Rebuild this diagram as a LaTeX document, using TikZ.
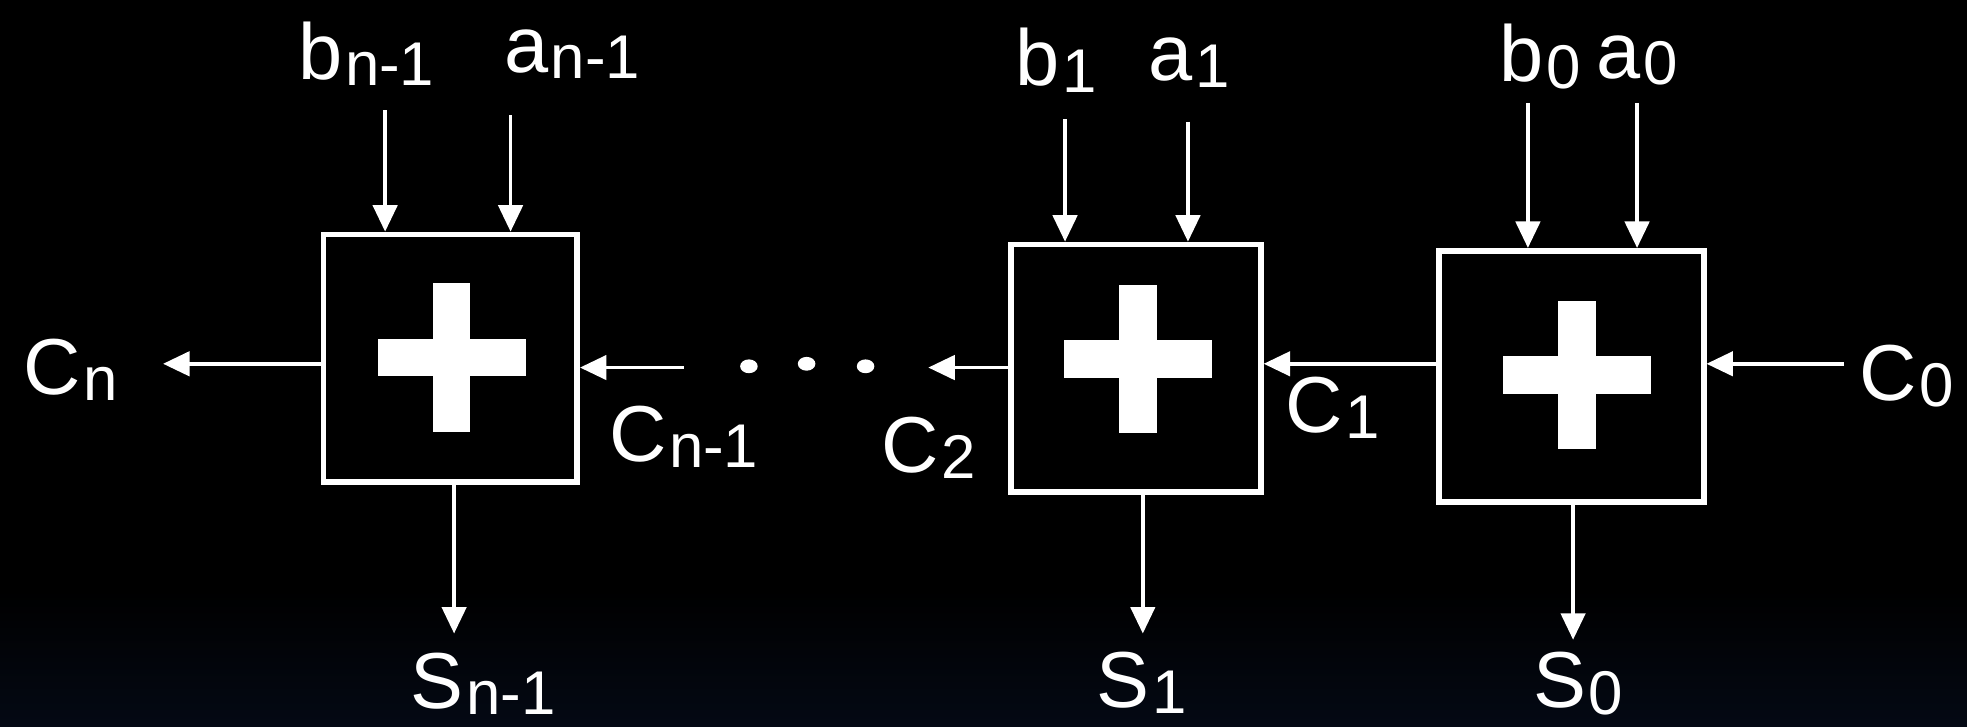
\documentclass[tikz,border=0pt]{standalone}
\usepackage{fontspec}
\setmainfont{Liberation Sans}
\usetikzlibrary{arrows.meta}
\newcommand\hw[2]{#1\kern0.6pt\raisebox{-0.15ex}{\fontsize{14}{14}\selectfont #2}}
\tikzset{
  wire/.style={draw=white, line width=0.85pt, -{Triangle[width=5.5pt,length=6pt]}},
  adder/.style={draw=white, line width=1.3pt, fill=black, inner sep=0pt},
  lbl/.style={text=white, font=\fontsize{18}{20}\selectfont, inner sep=0pt},
  plussign/.pic={
    \fill[white] (-0.59cm,-0.15cm) rectangle (0.59cm,0.15cm);
    \fill[white] (-0.15cm,-0.59cm) rectangle (0.15cm,0.59cm);
  }
}
\begin{document}
\begin{tikzpicture}[x=0.01cm, y=-0.01cm]
\useasboundingbox (0,0) rectangle (1568,579);
\fill[black] (0,0) rectangle (1568,579);
\shade[top color=black, bottom color={rgb,255:red,4;green,9;blue,20}] (0,470) rectangle (1568,579);

% adders
\node[adder, minimum width=2.02cm, minimum height=1.97cm] (box1) at (359,285.5) {};
\node[adder, minimum width=1.99cm, minimum height=1.97cm] (box2) at (905.5,293.5) {};
\node[adder, minimum width=2.11cm, minimum height=2.00cm] (box3) at (1252.5,300) {};
\pic at (360,285) {plussign};
\pic at (907,286) {plussign};
\pic at (1257,299) {plussign};

% labels
\node[lbl] (lbn) at (292,43) {\hw{b}{n-1}};
\node[lbl] (lan) at (456,43) {\hw{a}{n-1}};
\node[lbl] (lb1) at (842,48) {\hw{b}{1}};
\node[lbl] (la1) at (948,50) {\hw{a}{1}};
\node[lbl] (lb0) at (1228,45) {\hw{b}{0}};
\node[lbl] (la0) at (1305,48) {\hw{a}{0}};
\node[lbl] (lcn) at (56,295) {\hw{C}{n}};
\node[lbl] (lcn1) at (545,348) {\hw{C}{n-1}};
\node[lbl] (lc2) at (740,357) {\hw{C}{2}};
\node[lbl] (lc1) at (1062,325) {\hw{C}{1}};
\node[lbl] (lc0) at (1520,300) {\hw{C}{0}};
\node[lbl] (lsn) at (385,545) {\hw{S}{n-1}};
\node[lbl] (ls1) at (910,544) {\hw{S}{1}};
\node[lbl] (ls0) at (1258,545) {\hw{S}{0}};

% free ends
\coordinate (ibn) at (307,88);
\coordinate (ian) at (407,92);
\coordinate (ib1) at (849,95);
\coordinate (ia1) at (947,97);
\coordinate (ib0) at (1218,82);
\coordinate (ia0) at (1305,82);
\coordinate (ocn) at (130,290);
\coordinate (icn1) at (545,293);
\coordinate (oc2) at (740,293);
\coordinate (yc1) at (1100,290);
\coordinate (ic0) at (1470,290);
\coordinate (osn) at (362,505);
\coordinate (os1) at (911,505);
\coordinate (os0) at (1254,510);

% inputs
\draw[wire] (ibn) -- (ibn |- box1.north);
\draw[wire] (ian) -- (ian |- box1.north);
\draw[wire] (ib1) -- (ib1 |- box2.north);
\draw[wire] (ia1) -- (ia1 |- box2.north);
\draw[wire] (ib0) -- (ib0 |- box3.north);
\draw[wire] (ia0) -- (ia0 |- box3.north);

% carries
\draw[wire] (box1.west |- ocn) -- (ocn);
\draw[wire] (icn1) -- (box1.east |- icn1);
\draw[wire] (box2.west |- oc2) -- (oc2);
\draw[wire] (box3.west |- yc1) -- (box2.east |- yc1);
\draw[wire] (ic0) -- (box3.east |- ic0);

% sums
\draw[wire] (box1.south -| osn) -- (osn);
\draw[wire] (box2.south -| os1) -- (os1);
\draw[wire] (box3.south -| os0) -- (os0);

% dots
\fill[white] (597,292) ellipse (7 and 5.5);
\fill[white] (643,290) ellipse (7 and 5.5);
\fill[white] (690,292) ellipse (7 and 5.5);
\end{tikzpicture}
\end{document}
